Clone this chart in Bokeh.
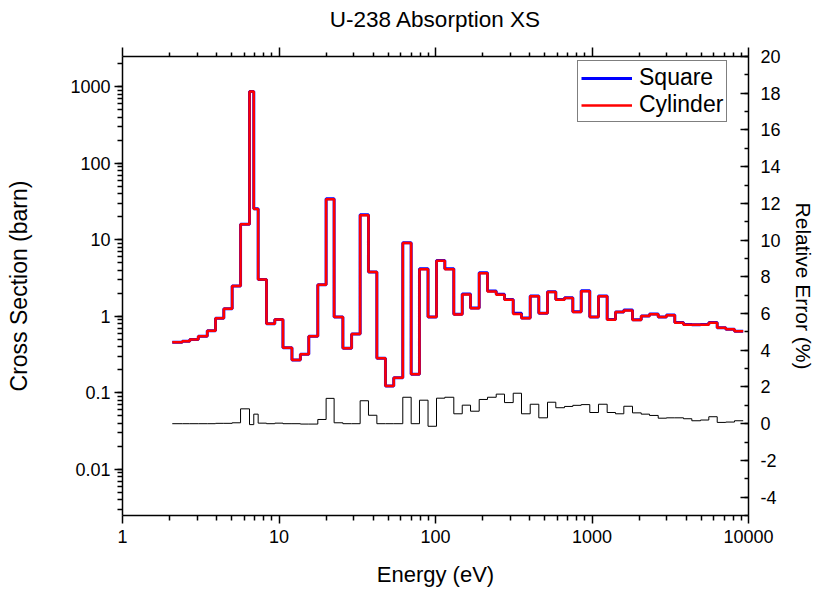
from bokeh.plotting import figure
from bokeh.models import (Range1d, LinearScale, LogAxis, LinearAxis, FixedTicker,
                          CustomJSTickFormatter, Legend, LegendItem)
from bokeh.embed import file_html
from bokeh.resources import INLINE

# Energy group boundaries (eV), ascending
energy_edges = [2.08, 2.41, 2.69, 3.05, 3.48, 3.93, 4.44, 5.02, 5.68, 6.48,
                6.90, 7.36, 8.32, 9.40, 10.6, 12.1, 13.7, 15.5, 17.7, 20.0,
                22.5, 25.6, 29.1, 33.0, 37.3, 42.2, 47.9, 54.1, 61.8, 69.9,
                79.0, 89.6, 101.5, 114.7, 130.9, 148.2, 167.4, 190.2, 214.9, 244.3,
                276.0, 313.7, 354.4, 402.9, 457.2, 519.6, 587.1, 667.3, 754.2, 853.1,
                967.9, 1100, 1250, 1413, 1597, 1815, 2063, 2331, 2649, 2992,
                3381, 3843, 4343, 4936, 5577, 6310, 7161, 8137, 9250]

# Group-wise absorption cross section (barn), cylindrical cell
cylinder = [0.46, 0.475, 0.50, 0.55, 0.65, 0.95, 1.26, 2.5, 16.0, 870.0,
            25.4, 3.05, 0.80, 0.91, 0.39, 0.27, 0.32, 0.55, 2.6, 34.0,
            0.98, 0.385, 0.59, 21.0, 3.8, 0.285, 0.123, 0.158, 9.1, 0.176,
            4.15, 0.98, 5.35, 4.15, 1.06, 1.94, 1.28, 3.68, 2.12, 1.92,
            1.65, 1.08, 0.95, 1.83, 1.10, 2.08, 1.65, 1.74, 1.14, 2.14,
            0.98, 1.83, 0.905, 1.14, 1.20, 0.90, 1.01, 1.07, 0.98, 1.04,
            0.83, 0.78, 0.78, 0.78, 0.83, 0.71, 0.68, 0.64]

# Square cell: agrees with the cylinder within the line width
square = [0.46, 0.475, 0.50, 0.55, 0.65, 0.95, 1.26, 2.5, 16.0, 870.0,
          25.5, 3.05, 0.80, 0.91, 0.39, 0.27, 0.32, 0.55, 2.6, 34.5,
          0.98, 0.385, 0.59, 21.3, 3.8, 0.285, 0.123, 0.158, 9.2, 0.176,
          4.2, 0.98, 5.4, 4.2, 1.07, 1.96, 1.29, 3.73, 2.15, 1.95,
          1.67, 1.10, 0.955, 1.85, 1.10, 2.10, 1.66, 1.76, 1.15, 2.16,
          0.985, 1.85, 0.91, 1.145, 1.21, 0.905, 1.015, 1.075, 0.983, 1.043,
          0.833, 0.782, 0.781, 0.782, 0.833, 0.71, 0.68, 0.641]

# Relative difference between the two cells (%)
rel_error = [0.0, 0.0, 0.0, 0.0, 0.0, 0.02, 0.02, 0.05, 0.81, -0.05,
             0.52, 0.03, 0.0, 0.03, 0.0, 0.0, -0.02, -0.02, 0.23, 1.38,
             0.05, 0.0, 0.0, 1.25, 0.46, 0.0, 0.0, 0.0, 1.44, 0.0,
             1.28, -0.14, 1.39, 1.44, 0.54, 1.01, 0.68, 1.32, 1.44, 1.61,
             1.15, 1.66, 0.54, 1.06, 0.32, 1.17, 0.87, 0.94, 1.0, 1.04,
             0.61, 1.06, 0.61, 0.54, 0.95, 0.59, 0.52, 0.45, 0.30, 0.32,
             0.32, 0.27, 0.16, 0.20, 0.38, 0.07, 0.09, 0.16]

# Axis ticks
x_ticks = [1, 10, 100, 1000, 10000]
x_minor = [k * 10 ** d for d in range(0, 4) for k in range(2, 10)]
y_ticks = [0.01, 0.1, 1, 10, 100, 1000]
y_minor = [k * 10.0 ** d for d in range(-3, 4) for k in range(1, 10)]
err_ticks = list(range(-4, 21, 2))
err_minor = list(range(-5, 21))

FONT = "Liberation Sans"
fmt = CustomJSTickFormatter(code="return String(tick);")
blank = CustomJSTickFormatter(code="return '';")

p = figure(
    frame_width=626, frame_height=459,
    x_axis_type="log", y_axis_type="log",
    x_range=Range1d(1, 10000), y_range=Range1d(0.0025, 2500),
    min_border_left=122, min_border_right=67, min_border_top=56, min_border_bottom=77,
    output_backend="svg", toolbar_location=None,
)
p.extra_y_ranges = {"err": Range1d(-5, 20)}
p.extra_y_scales = {"err": LinearScale()}

p.xgrid.visible = False
p.ygrid.visible = False
p.outline_line_color = None
p.background_fill_color = "white"
p.border_fill_color = "white"


def style_axis(ax, tick_out, minor_out, tick_in=0, minor_in=0, label_size="21px"):
    ax.axis_line_width = 1.5
    ax.major_tick_line_width = 1.5
    ax.minor_tick_line_width = 1.5
    ax.axis_line_color = "black"
    ax.major_tick_line_color = "black"
    ax.minor_tick_line_color = "black"
    ax.major_tick_out = tick_out
    ax.minor_tick_out = minor_out
    ax.major_tick_in = tick_in
    ax.minor_tick_in = minor_in
    ax.major_label_text_font = FONT
    ax.major_label_text_font_size = "18px"
    ax.major_label_text_color = "black"
    ax.axis_label_text_font = FONT
    ax.axis_label_text_font_size = label_size
    ax.axis_label_text_font_style = "normal"
    ax.axis_label_text_color = "black"


xa = p.xaxis[0]
xa.ticker = FixedTicker(ticks=x_ticks, minor_ticks=x_minor)
xa.formatter = fmt
xa.axis_label = "Energy (eV)"
style_axis(xa, 8, 5, label_size="22px")
xa.major_label_standoff = 6
xa.axis_label_standoff = 16

ya = p.yaxis[0]
ya.ticker = FixedTicker(ticks=y_ticks, minor_ticks=y_minor)
ya.formatter = fmt
ya.axis_label = "Cross Section (barn)"
style_axis(ya, 8, 5, label_size="23px")
ya.major_label_standoff = 4
ya.axis_label_standoff = 35

# Top axis: ticks only, carries the chart title as its label
top = LogAxis(ticker=FixedTicker(ticks=x_ticks, minor_ticks=x_minor), formatter=blank,
              axis_label="U-238 Absorption XS")
style_axis(top, 9, 4, label_size="22.5px")
top.major_label_standoff = 0
top.axis_label_standoff = 16
p.add_layout(top, "above")

right = LinearAxis(y_range_name="err",
                   ticker=FixedTicker(ticks=err_ticks, minor_ticks=err_minor),
                   formatter=fmt, axis_label="Relative Error (%)")
style_axis(right, 0, 0, tick_in=8, minor_in=4)
right.major_label_standoff = 12
right.axis_label_standoff = 8
p.add_layout(right, "right")

# Step curves: each value spans its energy group
blue = p.step(energy_edges, square + [square[-1]], mode="after",
              line_color="blue", line_width=3)
red = p.step(energy_edges, cylinder + [cylinder[-1]], mode="after",
             line_color="red", line_width=2.5)
p.step(energy_edges, rel_error + [rel_error[-1]], mode="after",
       line_color="black", line_width=1, y_range_name="err")

legend = Legend(
    items=[LegendItem(label="Square", renderers=[blue]),
           LegendItem(label="Cylinder", renderers=[red])],
    location=(455, 393),
    border_line_color="black", border_line_width=1,
    label_text_font=FONT, label_text_font_size="23px", label_text_color="black",
    glyph_width=51, glyph_height=26, label_height=26, label_standoff=7,
    padding=3, spacing=0, margin=0,
    background_fill_color="white", background_fill_alpha=1,
)
p.add_layout(legend)

open("out.html", "w").write(file_html(p, INLINE))
